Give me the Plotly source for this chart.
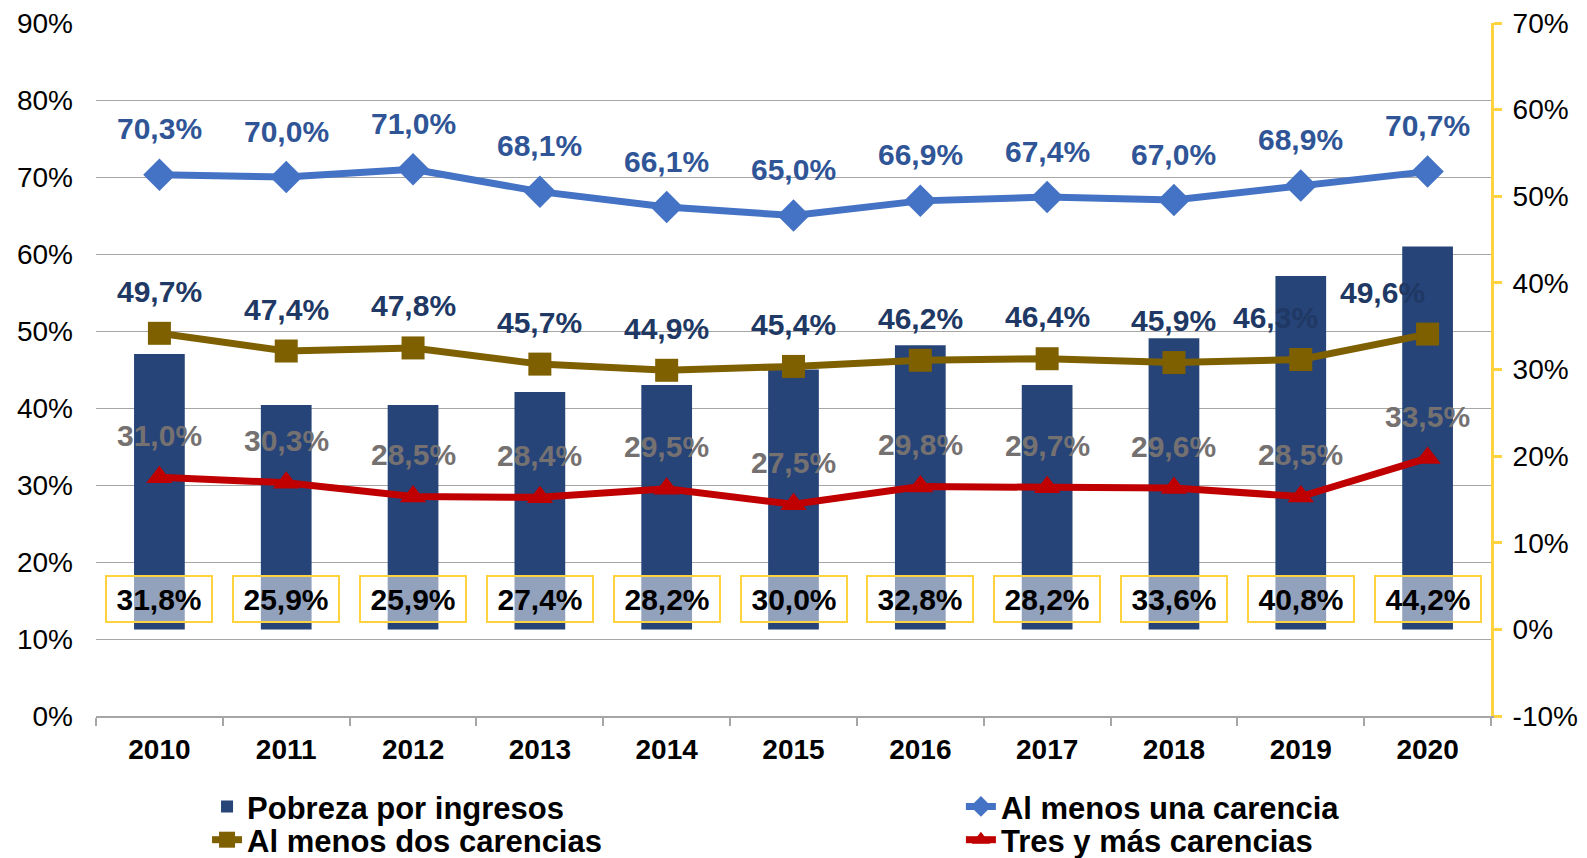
import plotly.graph_objects as go

years = ["2010", "2011", "2012", "2013", "2014", "2015", "2016", "2017", "2018", "2019", "2020"]
pobreza_ingresos = [31.8, 25.9, 25.9, 27.4, 28.2, 30.0, 32.8, 28.2, 33.6, 40.8, 44.2]
una_carencia = [70.3, 70.0, 71.0, 68.1, 66.1, 65.0, 66.9, 67.4, 67.0, 68.9, 70.7]
dos_carencias = [49.7, 47.4, 47.8, 45.7, 44.9, 45.4, 46.2, 46.4, 45.9, 46.3, 49.6]
tres_carencias = [31.0, 30.3, 28.5, 28.4, 29.5, 27.5, 29.8, 29.7, 29.6, 28.5, 33.5]

left_ticks = list(range(0, 91, 10))
left_labels = [f"{v}%" for v in left_ticks]
right_ticks = list(range(-10, 71, 10))
right_labels = [f"{v}%" for v in right_ticks]

BAR = "#264478"
BLUE = "#4472C4"
BROWN = "#7F6000"
RED = "#C00000"
GOLD = "#FFD23F"
GRID = "#A6A6A6"
FONT = "Liberation Sans, Arial, sans-serif"

def fmt(v):
    return f"{v:.1f}".replace(".", ",") + "%"

fig = go.Figure()

fig.add_trace(go.Bar(
    x=years, y=pobreza_ingresos, name="<b>Pobreza por ingresos</b>",
    marker=dict(color=BAR, line=dict(width=0)), width=0.4,
    xaxis="x", yaxis="y", legend="legend",
))
fig.add_trace(go.Scatter(
    x=years, y=una_carencia, name="<b>Al menos una carencia</b>", mode="lines+markers",
    line=dict(color=BLUE, width=7), marker=dict(symbol="diamond", size=25, color=BLUE),
    xaxis="x", yaxis="y2", legend="legend2",
))
fig.add_trace(go.Scatter(
    x=years, y=dos_carencias, name="<b>Al menos dos carencias</b>", mode="lines+markers",
    line=dict(color=BROWN, width=7), marker=dict(symbol="square", size=23, color=BROWN),
    xaxis="x", yaxis="y2", legend="legend3",
))
fig.add_trace(go.Scatter(
    x=years, y=tres_carencias, name="<b>Tres y más carencias</b>", mode="lines+markers",
    line=dict(color=RED, width=7), marker=dict(symbol="triangle-up", size=23, color=RED),
    xaxis="x", yaxis="y2", legend="legend4",
))

annotations = []
for i, yr in enumerate(years):
    annotations.append(dict(x=i, y=una_carencia[i], xref="x", yref="y2", text="<b>" + fmt(una_carencia[i]) + "</b>",
                            showarrow=False, yshift=46,
                            font=dict(family=FONT, size=30, color="#2F5597")))
    xs = 0
    if yr == "2019":
        xs = -25
    if yr == "2020":
        xs = -45
    annotations.append(dict(x=i, y=dos_carencias[i], xref="x", yref="y2", text="<b>" + fmt(dos_carencias[i]) + "</b>",
                            showarrow=False, yshift=42, xshift=xs,
                            font=dict(family=FONT, size=30, color="#203864")))
    annotations.append(dict(x=i, y=tres_carencias[i], xref="x", yref="y2", text="<b>" + fmt(tres_carencias[i]) + "</b>",
                            showarrow=False, yshift=42,
                            font=dict(family=FONT, size=30, color="#767171")))
    annotations.append(dict(x=i, y=0.169, xref="x", yref="paper", xanchor="center", yanchor="middle",
                            text="<b>" + fmt(pobreza_ingresos[i]) + "</b>",
                            showarrow=False, width=102, height=42, borderpad=1,
                            bgcolor="rgba(255,255,255,0.5)", bordercolor=GOLD, borderwidth=2,
                            font=dict(family=FONT, size=30, color="#000000")))

legend_font = dict(family=FONT, size=31, color="#000000")
def leg(x, y):
    return dict(orientation="v", x=x, xanchor="left", y=y, yanchor="middle",
                font=legend_font, bgcolor="rgba(0,0,0,0)")

fig.update_layout(
    width=1587, height=858,
    margin=dict(l=96, r=96, t=23, b=142, autoexpand=False),
    paper_bgcolor="white", plot_bgcolor="white",
    font=dict(family=FONT, color="#000000"),
    barmode="overlay",
    xaxis=dict(
        type="category", categoryorder="array", categoryarray=years,
        range=[-0.5, 10.5],
        showline=True, linecolor=GRID, linewidth=2,
        ticks="outside", tickson="boundaries", ticklen=8, tickcolor=GRID, tickwidth=2,
        tickfont=dict(family=FONT, size=28, color="#000000"),
        tickvals=years, ticktext=[f"<b>{y}</b>" for y in years], tickangle=0,
        ticklabelstandoff=7,
        showgrid=False,
    ),
    yaxis=dict(
        side="right", range=[-10, 70], tickmode="array", tickvals=right_ticks, ticktext=right_labels,
        showgrid=False, zeroline=False, showline=True, linecolor=GOLD, linewidth=3,
        ticks="outside", ticklen=8, tickcolor=GOLD, tickwidth=3,
        ticklabelstandoff=5,
        tickfont=dict(family=FONT, size=28, color="#000000"),
    ),
    yaxis2=dict(
        side="left", overlaying="y", range=[0, 90], tickmode="array", tickvals=left_ticks, ticktext=left_labels,
        showgrid=True, gridcolor=GRID, gridwidth=1, zeroline=False, showline=False,
        ticks="", ticklabelstandoff=22,
        tickfont=dict(family=FONT, size=28, color="#000000"),
    ),
    legend=leg(0.0796, -0.131),
    legend2=leg(0.620, -0.131),
    legend3=leg(0.0796, -0.179),
    legend4=leg(0.620, -0.179),
    annotations=annotations,
    showlegend=True,
)

fig.write_html("out.html", config={"displayModeBar": False},
               post_script="document.body.style.margin='0';")
